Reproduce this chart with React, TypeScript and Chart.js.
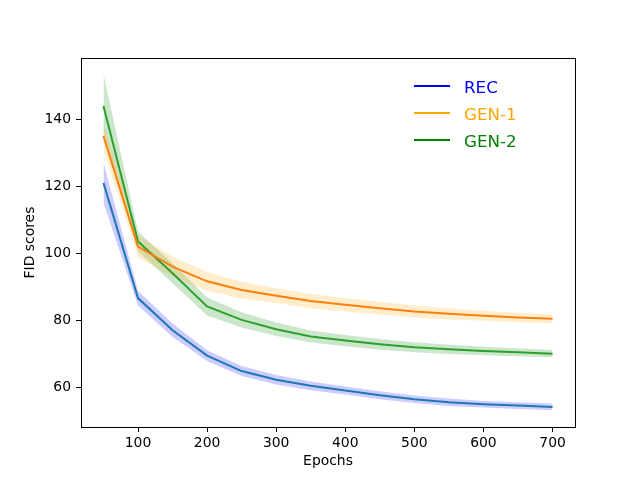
import React, { useEffect, useRef } from "react";
import { Chart, registerables } from "chart.js";

Chart.register(...registerables);

const epochs = [50, 100, 150, 200, 250, 300, 350, 400, 450, 500, 550, 600, 650, 700];

const recMean = [121, 86.6, 77, 69.4, 64.8, 62.2, 60.4, 59, 57.6, 56.4, 55.5, 54.9, 54.5, 54.1];
const recStd = [6, 2.2, 2, 1.6, 1.5, 1.4, 1.3, 1.2, 1.2, 1.1, 1.1, 1, 1, 1];

const gen1Mean = [135, 102, 96, 91.6, 89, 87.3, 85.7, 84.6, 83.6, 82.6, 81.9, 81.3, 80.8, 80.4];
const gen1Std = [4, 3.2, 3, 2.8, 2.5, 2.2, 2.1, 2, 1.9, 1.8, 1.7, 1.5, 1.4, 1.3];

const gen2Mean = [144, 103.5, 94, 84.1, 80.1, 77.3, 75.1, 73.9, 72.8, 71.9, 71.3, 70.8, 70.4, 70];
const gen2Std = [9.5, 3, 3, 2.7, 2.3, 2, 1.8, 1.7, 1.6, 1.5, 1.4, 1.3, 1.2, 1.1];

const xTicks = [100, 200, 300, 400, 500, 600, 700];
const yTicks = [60, 80, 100, 120, 140];

const seriesNames = ["REC", "GEN-1", "GEN-2"];
const lineColors = ["#1f77b4", "#ff7f0e", "#2ca02c"];
const legendColors = ["blue", "orange", "green"];
const bandColors = ["rgba(0,0,255,0.2)", "rgba(255,165,0,0.2)", "rgba(0,128,0,0.2)"];

const FONT = "'DejaVu Sans', sans-serif";

function points(vals: number[]) {
  return epochs.map((x, i) => ({ x, y: vals[i] }));
}

function makeSeries(idx: number, mean: number[], std: number[]) {
  const upper = mean.map((m, i) => m + std[i]);
  const lower = mean.map((m, i) => m - std[i]);
  return [
    {
      label: seriesNames[idx] + " upper",
      data: points(upper),
      borderWidth: 0,
      pointRadius: 0,
      fill: false,
    },
    {
      label: seriesNames[idx] + " lower",
      data: points(lower),
      borderWidth: 0,
      pointRadius: 0,
      backgroundColor: bandColors[idx],
      fill: "-1",
    },
    {
      label: seriesNames[idx],
      data: points(mean),
      borderColor: lineColors[idx],
      borderWidth: 2,
      pointRadius: 0,
      fill: false,
    },
  ];
}

// box around the plot area like matplotlib spines
const boxPlugin = {
  id: "box",
  afterDraw(chart: any) {
    const { ctx, chartArea } = chart;
    ctx.save();
    ctx.strokeStyle = "#000";
    ctx.lineWidth = 1;
    ctx.strokeRect(
      Math.round(chartArea.left) + 0.5,
      Math.round(chartArea.top) + 0.5,
      Math.round(chartArea.right - chartArea.left),
      Math.round(chartArea.bottom - chartArea.top)
    );
    ctx.restore();
  },
};

// legend drawn inside the axes, upper right
const legendPlugin = {
  id: "insideLegend",
  afterDraw(chart: any) {
    const { ctx, chartArea } = chart;
    const x0 = chartArea.right - 161;
    const y0 = chartArea.top + 28;
    ctx.save();
    ctx.font = `16.7px ${FONT}`;
    ctx.textBaseline = "alphabetic";
    seriesNames.forEach((name, i) => {
      const y = y0 + i * 27;
      ctx.strokeStyle = legendColors[i];
      ctx.lineWidth = 2;
      ctx.beginPath();
      ctx.moveTo(x0, y);
      ctx.lineTo(x0 + 36, y);
      ctx.stroke();
      ctx.fillStyle = legendColors[i];
      ctx.fillText(name, x0 + 50, y + 6.5);
    });
    ctx.restore();
  },
};

export default function App() {
  const canvasRef = useRef<HTMLCanvasElement | null>(null);

  useEffect(() => {
    if (!canvasRef.current) return;
    const chart = new Chart(canvasRef.current, {
      type: "line",
      data: {
        datasets: [
          ...makeSeries(0, recMean, recStd),
          ...makeSeries(1, gen1Mean, gen1Std),
          ...makeSeries(2, gen2Mean, gen2Std),
        ] as any,
      },
      options: {
        animation: false,
        responsive: true,
        maintainAspectRatio: false,
        devicePixelRatio: 1,
        layout: { padding: { top: 58, right: 65, left: 0, bottom: 0 } },
        plugins: {
          legend: { display: false },
          tooltip: { enabled: false },
          filler: { drawTime: "beforeDatasetsDraw" },
        } as any,
        scales: {
          x: {
            type: "linear",
            min: 17.5,
            max: 732.5,
            afterFit: (s: any) => {
              s.height = 53;
            },
            afterBuildTicks: (s: any) => {
              s.ticks = xTicks.map((v) => ({ value: v }));
            },
            grid: {
              drawOnChartArea: false,
              drawTicks: true,
              tickLength: 5,
              tickColor: "#000",
              tickWidth: 1,
            },
            border: { display: false },
            ticks: {
              color: "#000",
              font: { family: FONT, size: 13.9 },
              padding: 3,
              maxRotation: 0,
              autoSkip: false,
            },
            title: {
              display: true,
              text: "Epochs",
              color: "#000",
              font: { family: FONT, size: 13.9 },
              padding: { top: 0, bottom: 10 },
            },
          },
          y: {
            type: "linear",
            min: 48.1,
            max: 158.3,
            afterFit: (s: any) => {
              s.width = 81;
            },
            afterBuildTicks: (s: any) => {
              s.ticks = yTicks.map((v) => ({ value: v }));
            },
            grid: {
              drawOnChartArea: false,
              drawTicks: true,
              tickLength: 5,
              tickColor: "#000",
              tickWidth: 1,
            },
            border: { display: false },
            ticks: {
              color: "#000",
              font: { family: FONT, size: 13.9 },
              padding: 5,
              autoSkip: false,
            },
            title: {
              display: true,
              text: "FID scores",
              color: "#000",
              font: { family: FONT, size: 13.9 },
              padding: { top: 22, bottom: 0 },
            },
          },
        },
      },
      plugins: [boxPlugin, legendPlugin],
    });
    return () => chart.destroy();
  }, []);

  return (
    <div
      style={{
        position: "fixed",
        left: 0,
        top: 0,
        width: 640,
        height: 480,
        background: "#fff",
      }}
    >
      <canvas ref={canvasRef} />
    </div>
  );
}
